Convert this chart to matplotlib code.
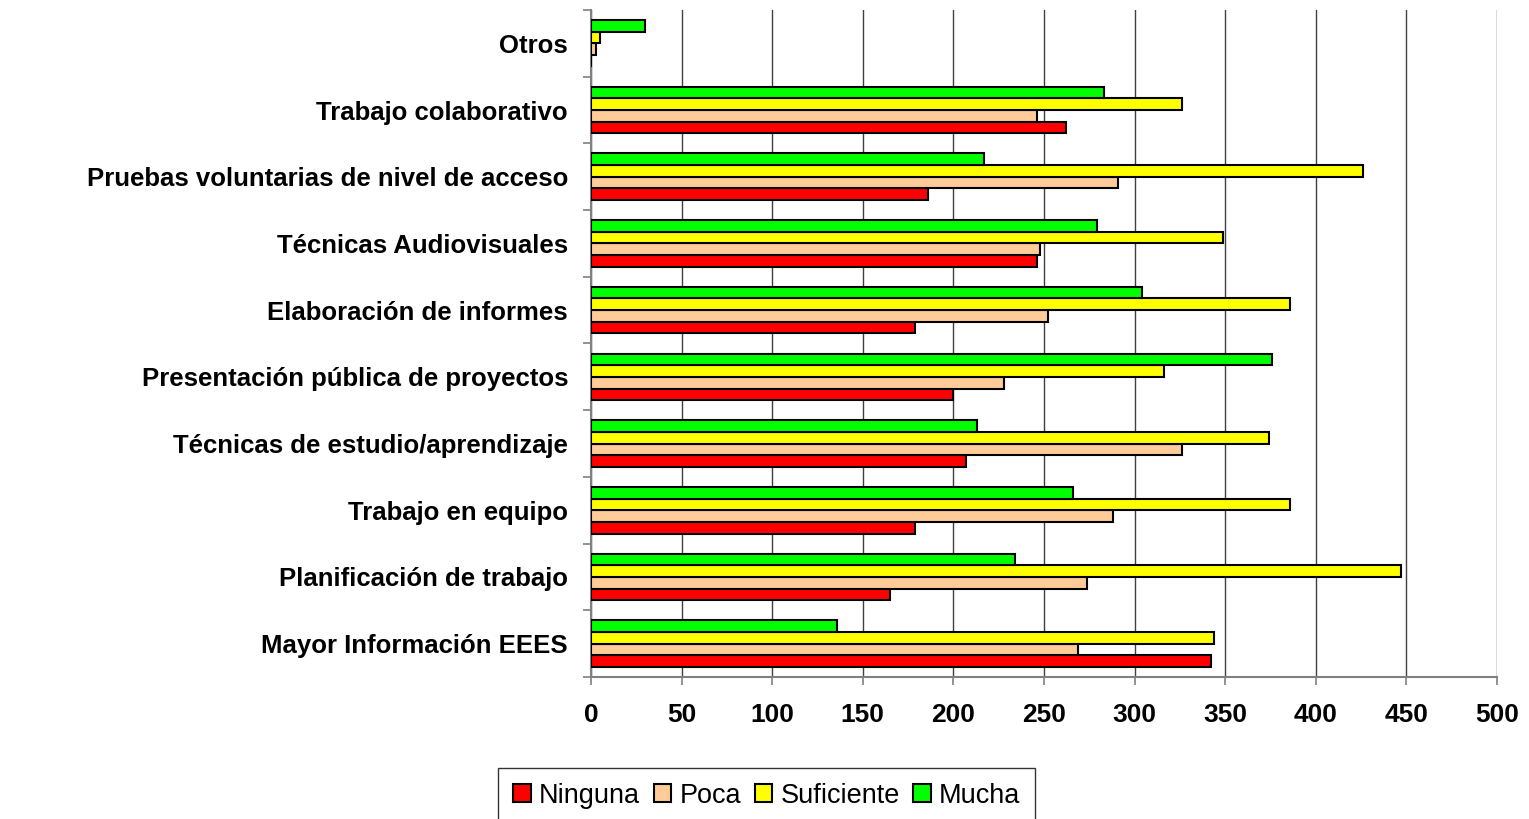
"""Horizontal grouped bar chart: valoración de actividades (Ninguna/Poca/Suficiente/Mucha)."""

import matplotlib
matplotlib.use("Agg")
import matplotlib.pyplot as plt
import numpy as np

categories = [
    "Mayor Información EEES",
    "Planificación de trabajo",
    "Trabajo en equipo",
    "Técnicas de estudio/aprendizaje",
    "Presentación pública de proyectos",
    "Elaboración de informes",
    "Técnicas Audiovisuales",
    "Pruebas voluntarias de nivel de acceso",
    "Trabajo colaborativo",
    "Otros",
]
ninguna = [342, 165, 179, 207, 200, 179, 246, 186, 262, 0]
poca = [269, 274, 288, 326, 228, 252, 248, 291, 246, 3]
suficiente = [344, 447, 386, 374, 316, 386, 349, 426, 326, 5]
mucha = [136, 234, 266, 213, 376, 304, 279, 217, 283, 30]

series_names = ["Ninguna", "Poca", "Suficiente", "Mucha"]
series_colors = ["#FF0000", "#FFCC99", "#FFFF00", "#00FF00"]
x_ticks = list(range(0, 501, 50))

plt.rcParams["font.family"] = ["Liberation Sans", "DejaVu Sans"]

fig = plt.figure(figsize=(15.29, 8.19), dpi=100)
ax = fig.add_axes([591 / 1529, 1 - 677 / 819, 906 / 1529, 667 / 819])

y = np.arange(len(categories))
bar_h = 0.175
series = [ninguna, poca, suficiente, mucha]
for i, (vals, name, col) in enumerate(zip(series, series_names, series_colors)):
    offset = (i - 1.5) * bar_h
    ax.barh(y + offset, vals, height=bar_h, color=col, edgecolor="black",
            linewidth=1.5, label=name, zorder=3)

ax.set_xlim(0, 500)
ax.set_ylim(-0.5, len(categories) - 0.5)
ax.set_xticks(x_ticks)
ax.set_xticklabels([str(t) for t in x_ticks], fontsize=19, fontweight="bold")
ax.set_yticks(y)
ax.set_yticklabels(categories, fontsize=18.5, fontweight="bold")
ax.set_yticks(np.arange(-0.5, len(categories), 1), minor=True)
ax.tick_params(axis="y", which="major", length=0, pad=16.5)
ax.tick_params(axis="y", which="minor", length=6, color="#808080", width=1.2)
ax.tick_params(axis="x", length=6, color="#808080", width=1.2, pad=13)

ax.xaxis.grid(True, color="#404040", linewidth=1, zorder=0)
ax.set_axisbelow(True)
for side in ["top", "right"]:
    ax.spines[side].set_visible(False)
for side in ["left", "bottom"]:
    ax.spines[side].set_color("#808080")
    ax.spines[side].set_linewidth(1.5)

leg = fig.legend(loc="upper center", bbox_to_anchor=(0.5015, 1 - 768 / 819), ncol=4,
                 fontsize=19.5, frameon=True, fancybox=False, handlelength=0.65,
                 handleheight=0.65, handletextpad=0.3, columnspacing=0.5,
                 borderpad=0.55, borderaxespad=0)
leg.get_frame().set_edgecolor("black")
leg.get_frame().set_linewidth(1)

fig.savefig("out.png", dpi=100)
